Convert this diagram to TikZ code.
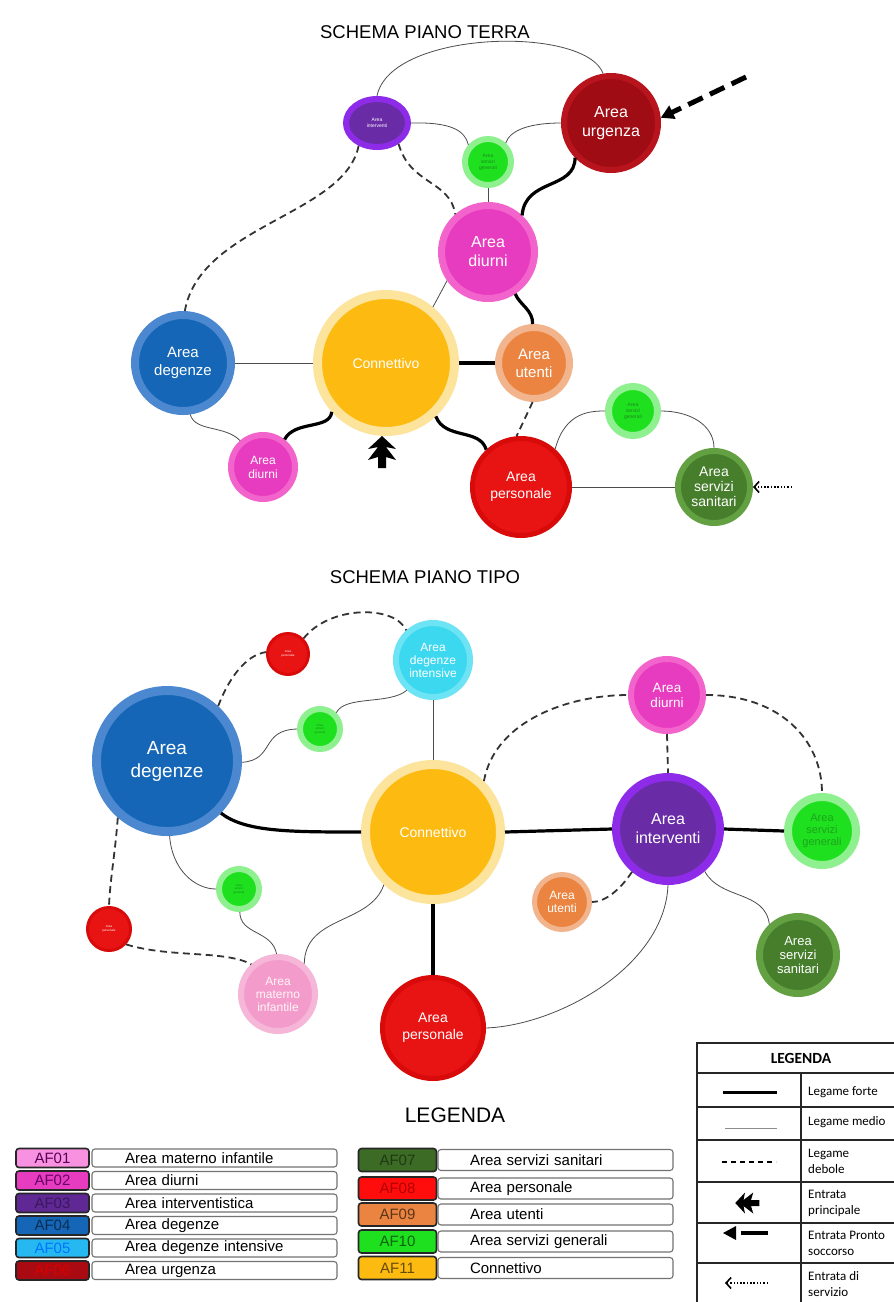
\documentclass[tikz,border=0pt]{standalone}
\usepackage{fontspec}
\setmainfont{Liberation Sans}
\newfontfamily\calib{Carlito}
\usetikzlibrary{arrows.meta,shapes.geometric}
\newcommand\fsz[2]{\fontsize{#1}{#2}\selectfont}
\definecolor{urgO}{HTML}{B8141E}\definecolor{urgI}{HTML}{A00C14}
\definecolor{intO}{HTML}{8E2BE8}\definecolor{intI}{HTML}{6A2CA6}
\definecolor{sgO}{HTML}{8EF08E}\definecolor{sgI}{HTML}{1EE01E}
\definecolor{diuO}{HTML}{F264CC}\definecolor{diuI}{HTML}{E83CC0}
\definecolor{conO}{HTML}{FCE49C}\definecolor{conI}{HTML}{FDBB12}
\definecolor{degO}{HTML}{4C88D0}\definecolor{degI}{HTML}{1566B6}
\definecolor{utO}{HTML}{F2B48C}\definecolor{utI}{HTML}{EA8440}
\definecolor{perO}{HTML}{D80A0A}\definecolor{perI}{HTML}{E81414}
\definecolor{sanO}{HTML}{62A042}\definecolor{sanI}{HTML}{467E2C}
\definecolor{cyaO}{HTML}{6CE4F4}\definecolor{cyaI}{HTML}{3CD8F0}
\definecolor{matO}{HTML}{F6B6D8}\definecolor{matI}{HTML}{F39CCB}
\definecolor{sgT}{HTML}{1C8A1C}
\begin{document}
\begin{tikzpicture}[x=1pt,y=-1pt,
  bub/.style={circle, inner sep=0pt, align=center, text=white},
  strong/.style={line width=3.2pt, black},
  medium/.style={line width=0.8pt, black!70},
  weak/.style={line width=1.8pt, black!80, dash pattern=on 7pt off 4.5pt},
  codebox/.style={draw=black!85, line width=1.6pt, rounded corners=3pt, minimum width=73pt, inner sep=0pt, font=\fsz{15}{16}},
  descbox/.style={draw=black!55, line width=1.1pt, rounded corners=3pt, inner ysep=0pt, align=left, font=\fsz{15}{16}},
  ltxt/.style={anchor=west, align=left, font=\calib\fsz{13}{16}, inner sep=0pt},
  tbl/.style={draw=black!85, line width=1.3pt},
  srv/.style={line width=1.6pt, dash pattern=on 1.5pt off 1.8pt, -{Straight Barb[length=5pt,width=11pt,line width=1.6pt]}},
  entr/.style={fill=black}
]
\useasboundingbox (0,0) rectangle (894,1302);
\fill[white] (0,0) rectangle (894,1302);

% ---------------- TITLES
\node[font=\fsz{18.5}{22}] (t1) at (425,32) {SCHEMA PIANO TERRA};
\node[font=\fsz{18.5}{22}] (t2) at (425,577) {SCHEMA PIANO TIPO};
\node[font=\fsz{21}{24}] (t3) at (455,1115) {LEGENDA};

% ---------------- TOP DIAGRAM NODES
\node[bub, fill=urgI, draw=urgO, line width=6pt, minimum size=94pt, font=\fsz{16}{19}] (urg) at (611,123) {Area\\urgenza};
\node[ellipse, inner sep=0pt, align=center, text=white, fill=intI, draw=intO, line width=6pt, minimum width=62pt, minimum height=48pt, font=\fsz{5}{6}] (intv) at (377,123) {Area\\interventi};
\node[bub, fill=sgI, draw=sgO, line width=6pt, minimum size=46pt, text=sgT, font=\fsz{5}{6}] (sg) at (488,162) {Area\\servizi\\generali};
\node[bub, fill=diuI, draw=diuO, line width=7pt, minimum size=93pt, font=\fsz{16}{19}] (diu) at (488,252) {Area\\diurni};
\node[bub, fill=conI, draw=conO, line width=9pt, minimum size=137pt, font=\fsz{14}{16}] (con) at (386,363) {Connettivo};
\node[bub, fill=degI, draw=degO, line width=8pt, minimum size=96pt, font=\fsz{15}{18}] (deg) at (183,363) {Area\\degenze};
\node[bub, fill=diuI, draw=diuO, line width=6pt, minimum size=64pt, font=\fsz{12}{14}] (dbl) at (263,467) {Area\\diurni};
\node[bub, fill=utI, draw=utO, line width=7pt, minimum size=71pt, font=\fsz{15}{18}] (ut) at (534,363) {Area\\utenti};
\node[bub, fill=perI, draw=perO, line width=5pt, minimum size=97pt, font=\fsz{14}{17}] (pers) at (521,487) {Area\\personale};
\node[bub, fill=sgI, draw=sgO, line width=7pt, minimum size=49pt, text=sgT, font=\fsz{5}{6}] (sgR) at (633,411) {Area\\servizi\\generali};
\node[bub, fill=sanI, draw=sanO, line width=6pt, minimum size=72pt, font=\fsz{14}{15}] (san) at (714,487) {Area\\servizi\\sanitari};

% ---------------- TOP DIAGRAM CONNECTORS
\draw[medium] (intv.90) .. controls (390,30) and (585,25) .. (urg.99);
\draw[medium] (intv.0) .. controls (450,122) and (465,130) .. (sg.139);
\draw[medium] (urg.180) .. controls (530,123) and (510,130) .. (sg.47);
\draw[medium] (sg.270) -- (diu.90);
\draw[strong] (urg.224) .. controls (575,190) and (525,178) .. (diu.47);
\draw[weak] (intv.316) .. controls (410,185) and (450,180) .. (diu.131);
\draw[weak] (intv.231) .. controls (345,215) and (200,225) .. (deg.88);
\draw[medium] (deg.0) -- (con.180);
\draw[medium] (diu.215) -- (con.50);
\draw[strong] (diu.303) .. controls (520,305) and (533,310) .. (ut.92);
\draw[strong] (con.0) -- (ut.180);
\draw[weak] (ut.268) -- (pers.95);
\draw[strong] (con.313) .. controls (445,440) and (480,428) .. (pers.133);
\draw[medium] (deg.278) .. controls (195,432) and (225,425) .. (dbl.131);
\draw[strong] (con.222) .. controls (330,430) and (295,420) .. (dbl.52);
\draw[medium] (pers.48) .. controls (565,412) and (590,411) .. (sgR.180);
\draw[medium] (sgR.0) .. controls (690,411) and (714,425) .. (san.90);
\draw[medium] (pers.0) -- (san.180);

% entrances (top)
\coordinate (seS) at (792,487);
\draw[srv] (seS) -- (san.0);
\coordinate (psS) at (746,77);
\draw[line width=5pt, dash pattern=on 16pt off 8pt, -{Triangle[length=13pt,width=14pt]}] (psS) -- (urg.6);
\fill[entr, shift={(382,453)}] (0,-17) -- (14,-4) -- (4,-6) -- (14,7) -- (4,4) -- (4,15) -- (-4,15) -- (-4,4) -- (-14,7) -- (-4,-6) -- (-14,-4) -- cycle;

% ---------------- BOTTOM DIAGRAM NODES
\node[bub, fill=degI, draw=degO, line width=9pt, minimum size=141pt, font=\fsz{19}{23}] (deg2) at (167,761) {Area\\degenze};
\node[bub, fill=perI, draw=perO, line width=3pt, minimum size=41pt, font=\fsz{3}{3.5}] (red1) at (288,654) {Area\\personale};
\node[bub, fill=cyaI, draw=cyaO, line width=6pt, minimum size=74pt, font=\fsz{12}{13}] (cya) at (433,660) {Area\\degenze\\intensive};
\node[bub, fill=sgI, draw=sgO, line width=6pt, minimum size=40pt, text=sgT, font=\fsz{3}{3.5}] (g1) at (320,729) {Area\\servizi\\generali};
\node[bub, fill=conI, draw=conO, line width=9pt, minimum size=135pt, font=\fsz{14}{16}] (con2) at (433,832) {Connettivo};
\node[bub, fill=diuI, draw=diuO, line width=6pt, minimum size=72pt, font=\fsz{13.5}{15}] (diu2) at (667,695) {Area\\diurni};
\node[bub, fill=intI, draw=intO, line width=8pt, minimum size=104pt, font=\fsz{16}{19}] (int2) at (668,829) {Area\\interventi};
\node[bub, fill=sgI, draw=sgO, line width=8pt, minimum size=68pt, text=sgT!70!sgI, font=\fsz{11}{12}] (sg2) at (822,831) {Area\\servizi\\generali};
\node[bub, fill=utI, draw=utO, line width=5pt, minimum size=55pt, font=\fsz{12}{13}] (ut2) at (562,902) {Area\\utenti};
\node[bub, fill=sanI, draw=sanO, line width=7pt, minimum size=77pt, font=\fsz{13}{14}] (san2) at (798,955) {Area\\servizi\\sanitari};
\node[bub, fill=perI, draw=perO, line width=5pt, minimum size=101pt, font=\fsz{14}{17}] (pers2) at (433,1028) {Area\\personale};
\node[bub, fill=matI, draw=matO, line width=6pt, minimum size=74pt, text=white!85!pink, font=\fsz{12}{13}] (mat) at (278,994) {Area\\materno\\infantile};
\node[bub, fill=sgI, draw=sgO, line width=6pt, minimum size=40pt, text=sgT, font=\fsz{3}{3.5}] (g2) at (239,889) {Area\\servizi\\generali};
\node[bub, fill=perI, draw=perO, line width=3pt, minimum size=43pt, font=\fsz{3}{3.5}] (red2) at (109,929) {Area\\personale};

% ---------------- BOTTOM DIAGRAM CONNECTORS
\draw[weak] (deg2.47) .. controls (228,680) and (245,655) .. (red1.175);
\draw[weak] (red1.45) .. controls (330,605) and (395,605) .. (cya.132);
\draw[medium] (deg2.359) .. controls (275,760) and (260,730) .. (g1.180);
\draw[medium] (g1.45) .. controls (345,695) and (390,705) .. (cya.229);
\draw[medium] (cya.270) -- (con2.90);
\draw[strong] (deg2.316) .. controls (245,832) and (290,832) .. (con2.180);
\draw[strong] (con2.0) -- (int2.180);
\draw[strong] (int2.0) -- (sg2.180);
\draw[weak] (con2.45) .. controls (495,720) and (570,695) .. (diu2.180);
\draw[weak] (diu2.0) .. controls (780,695) and (822,740) .. (sg2.90);
\draw[weak] (diu2.270) -- (int2.90);
\draw[weak] (int2.230) .. controls (620,890) and (605,902) .. (ut2.0);
\draw[medium] (int2.270) .. controls (665,965) and (560,1025) .. (pers2.0);
\draw[medium] (int2.311) .. controls (720,900) and (765,890) .. (san2.133);
\draw[strong] (con2.270) -- (pers2.90);
\draw[medium] (deg2.272) .. controls (172,870) and (195,889) .. (g2.180);
\draw[medium] (g2.272) .. controls (240,935) and (272,930) .. (mat.92);
\draw[medium] (con2.227) .. controls (370,925) and (305,915) .. (mat.49);
\draw[weak] (deg2.229) .. controls (115,855) and (110,880) .. (red2.90);
\draw[weak] (red2.318) .. controls (170,958) and (225,950) .. (mat.132);

% ---------------- COLOUR LEGEND
\node[codebox, minimum height=19pt, fill=matO!80!magenta, text=violet!70!black] (af01) at (52.5,1158) {AF01};
\node[codebox, minimum height=19pt, fill=diuI, text=violet!80!black] (af02) at (52.5,1180.5) {AF02};
\node[codebox, minimum height=19pt, fill=intI!90!black, text=intI!55!black] (af03) at (52.5,1203) {AF03};
\node[codebox, minimum height=19pt, fill=degI, text=degI!45!black] (af04) at (52.5,1225.5) {AF04};
\node[codebox, minimum height=19pt, fill=cyan!85!white, text=blue!55!cyan] (af05) at (52.5,1248) {AF05};
\node[codebox, minimum height=19pt, fill=urgI!90!red, text=red!85!black] (af06) at (52.5,1270.5) {AF06};
\node[descbox, minimum height=18pt, text width=179pt, inner xsep=33pt] (d01) at (214.5,1158) {Area materno infantile};
\node[descbox, minimum height=18pt, text width=179pt, inner xsep=33pt] (d02) at (214.5,1180.5) {Area diurni};
\node[descbox, minimum height=18pt, text width=179pt, inner xsep=33pt] (d03) at (214.5,1203) {Area interventistica};
\node[descbox, minimum height=18pt, text width=179pt, inner xsep=33pt] (d04) at (214.5,1225.5) {Area degenze};
\node[descbox, minimum height=18pt, text width=179pt, inner xsep=33pt] (d05) at (214.5,1248) {Area degenze intensive};
\node[descbox, minimum height=18pt, text width=179pt, inner xsep=33pt] (d06) at (214.5,1270.5) {Area urgenza};

\node[codebox, minimum width=78pt, minimum height=23pt, fill=sanI!85!black, text=sanI!45!black] (af07) at (397.5,1160) {AF07};
\node[codebox, minimum width=78pt, minimum height=23pt, fill=red!95!white, text=red!70!black] (af08) at (397.5,1188.5) {AF08};
\node[codebox, minimum width=78pt, minimum height=23pt, fill=utI, text=utI!40!black] (af09) at (397.5,1214.5) {AF09};
\node[codebox, minimum width=78pt, minimum height=23pt, fill=sgI, text=sgI!45!black] (af10) at (397.5,1241.5) {AF10};
\node[codebox, minimum width=78pt, minimum height=23pt, fill=conI, text=conI!40!black] (af11) at (397.5,1268) {AF11};
\node[descbox, minimum height=21pt, text width=171pt, inner xsep=32pt] (d07) at (555.5,1160) {Area servizi sanitari};
\node[descbox, minimum height=21pt, text width=171pt, inner xsep=32pt] (d08) at (555.5,1188.5) {Area personale};
\node[descbox, minimum height=21pt, text width=171pt, inner xsep=32pt] (d09) at (555.5,1214.5) {Area utenti};
\node[descbox, minimum height=21pt, text width=171pt, inner xsep=32pt] (d10) at (555.5,1241.5) {Area servizi generali};
\node[descbox, minimum height=21pt, text width=171pt, inner xsep=32pt] (d11) at (555.5,1268) {Connettivo};

% ---------------- LINK LEGEND TABLE
\draw[tbl] (697,1043) rectangle (905,1320);
\draw[tbl] (697,1073) -- (905,1073);
\draw[tbl] (697,1107) -- (905,1107);
\draw[tbl] (697,1140) -- (905,1140);
\draw[tbl] (697,1182) -- (905,1182);
\draw[tbl] (697,1223) -- (905,1223);
\draw[tbl] (697,1263) -- (905,1263);
\draw[tbl] (801,1073) -- (801,1320);
\node[font=\calib\bfseries\fsz{15.5}{18}] (lh) at (801,1058) {LEGENDA};
\node[ltxt] (l1) at (808,1092) {Legame forte};
\node[ltxt] (l2) at (808,1122) {Legame medio};
\node[ltxt] (l3) at (808,1161) {Legame\\debole};
\node[ltxt] (l4) at (808,1203) {Entrata\\principale};
\node[ltxt] (l5) at (808,1243) {Entrata Pronto\\soccorso};
\node[ltxt] (l6) at (808,1284) {Entrata di\\servizio};
\draw[line width=3pt] (723,1092) -- (777,1092);
\draw[line width=0.7pt, black!45] (725,1128) -- (777,1128);
\draw[line width=1.3pt, dash pattern=on 5pt off 4pt] (722,1162) -- (776,1162);
\fill[entr, shift={(748,1203)}, rotate=90, scale=0.75] (0,-17) -- (14,-4) -- (4,-6) -- (14,7) -- (4,4) -- (4,15) -- (-4,15) -- (-4,4) -- (-14,7) -- (-4,-6) -- (-14,-4) -- cycle;
\fill (723,1233) -- (736,1226) -- (736,1240) -- cycle;
\draw[line width=4.5pt] (741,1233) -- (768,1233);
\coordinate (lsA) at (768,1283);
\coordinate (lsB) at (725,1283);
\draw[srv, line width=1.2pt] (lsA) -- (lsB);
\end{tikzpicture}
\end{document}
